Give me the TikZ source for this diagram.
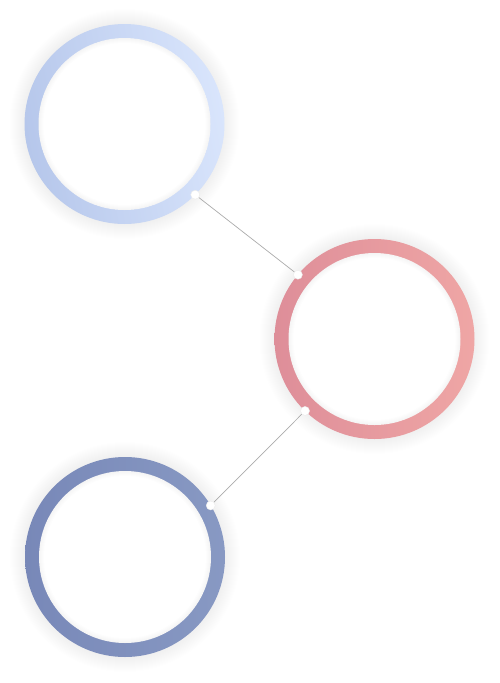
\documentclass[tikz,border=0pt]{standalone}
\definecolor{skyleft}{HTML}{B6C7EB}
\definecolor{skyright}{HTML}{D9E5FC}
\definecolor{roseleft}{HTML}{DE8E99}
\definecolor{roseright}{HTML}{EFA6A5}
\definecolor{slateleft}{HTML}{7888B8}
\definecolor{slateright}{HTML}{8899C3}
\begin{document}
\begin{tikzpicture}[x=1pt, y=-1pt,
    ring/.style={circle, inner sep=0pt, outer sep=0pt, minimum size=200pt},
    joint/.style={circle, fill=white, draw=black!8, line width=0.4pt, inner sep=0pt, minimum size=9pt},
    link/.style={draw=black!33, line width=0.7pt}]
    \useasboundingbox (0,0) rectangle (499,683);

    %soft shadows
    \foreach \c in {(124.5,124),(374.5,339),(125,557)}{
        \foreach \r in {1,...,16}
            \fill[black, opacity=0.0045] \c circle (99+\r);
    }

    %rings
    \node[ring, left color=skyleft, right color=skyright, shading angle=100] (sky) at (124.5,124) {};
    \node[ring, left color=roseleft, right color=roseright] (rose) at (374.5,339) {};
    \node[ring, left color=slateleft, right color=slateright] (slate) at (125,557) {};
    \foreach \n in {sky, rose, slate}{
        \fill[white] (\n) circle (86);
        \foreach \r in {1,...,5}
            \fill[black, opacity=0.006, even odd rule] (\n) circle (86) circle (86-\r);
    }

    %joints
    \node[joint] (skyout) at (sky.-45) {};
    \node[joint] (rosein) at (rose.140) {};
    \node[joint] (roseout) at (rose.226) {};
    \node[joint] (slatein) at (slate.31) {};

    \draw[link] (skyout) -- (rosein);
    \draw[link] (roseout) -- (slatein);
\end{tikzpicture}
\end{document}
